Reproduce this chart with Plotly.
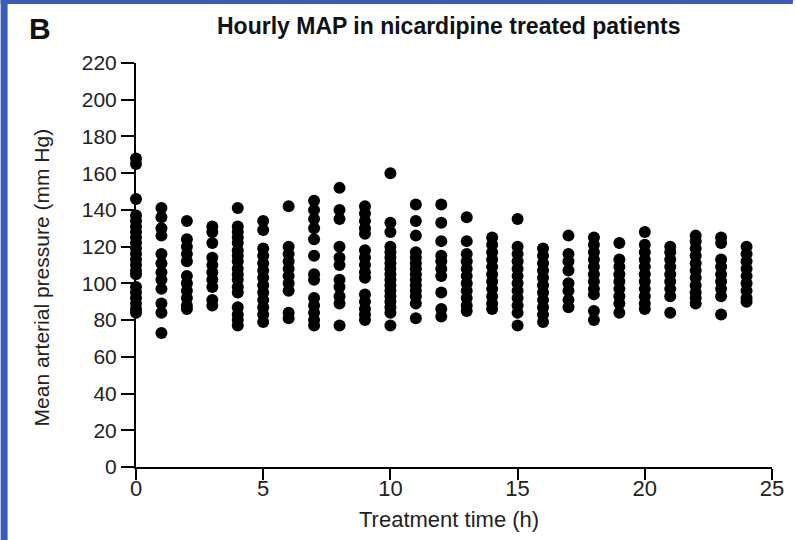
import plotly.graph_objects as go

hours = list(range(25))
map_values = {
    0: [168, 165, 146, 137, 134, 131, 128, 125, 122, 119, 116, 113, 110, 107, 105, 98, 95, 92, 89, 86, 84],
    1: [141, 136, 130, 126, 116, 111, 106, 102, 97, 89, 84, 73],
    2: [134, 124, 120, 116, 112, 104, 100, 96, 92, 88, 86],
    3: [131, 128, 122, 114, 110, 106, 102, 98, 91, 88],
    4: [141, 131, 128, 125, 122, 118, 115, 112, 108, 105, 102, 98, 95, 87, 83, 80, 77],
    5: [134, 129, 119, 115, 111, 107, 103, 99, 95, 91, 87, 83, 79],
    6: [142, 120, 116, 112, 108, 104, 100, 96, 84, 81],
    7: [145, 140, 135, 130, 124, 115, 105, 102, 92, 88, 84, 80, 77],
    8: [152, 140, 135, 120, 114, 110, 102, 98, 93, 89, 77],
    9: [142, 138, 134, 130, 127, 118, 114, 110, 106, 103, 94, 90, 86, 83, 80],
    10: [160, 133, 128, 120, 117, 114, 111, 108, 105, 102, 99, 96, 93, 90, 87, 84, 77],
    11: [143, 134, 126, 117, 114, 111, 108, 105, 102, 99, 96, 93, 89, 81],
    12: [143, 133, 123, 115, 112, 108, 104, 95, 86, 82],
    13: [136, 123, 116, 112, 108, 104, 100, 96, 92, 88, 85],
    14: [125, 121, 117, 113, 109, 105, 101, 97, 93, 89, 86],
    15: [135, 120, 116, 112, 108, 104, 100, 96, 92, 88, 84, 77],
    16: [119, 115, 111, 107, 103, 99, 95, 91, 87, 83, 79],
    17: [126, 116, 112, 107, 100, 96, 91, 87],
    18: [125, 121, 117, 113, 109, 105, 101, 97, 94, 85, 80],
    19: [122, 113, 109, 105, 101, 97, 93, 89, 84],
    20: [128, 121, 117, 113, 109, 105, 101, 97, 93, 89, 86],
    21: [120, 117, 113, 109, 105, 101, 97, 93, 84],
    22: [126, 123, 119, 115, 111, 107, 103, 99, 95, 92, 89],
    23: [125, 122, 113, 109, 105, 101, 97, 93, 83],
    24: [120, 116, 112, 108, 104, 100, 96, 92, 90],
}
x_ticks = [0, 5, 10, 15, 20, 25]
y_ticks = list(range(0, 221, 20))

xs, ys = [], []
for h in hours:
    for v in map_values[h]:
        xs.append(h)
        ys.append(v)

fig = go.Figure()
fig.add_trace(go.Scatter(
    x=xs, y=ys, mode="markers",
    marker=dict(color="black", size=12, line=dict(width=0)),
    cliponaxis=False, showlegend=False,
))

W, H = 796, 540
L, R, T, B = 136, 21, 63, 73
fig.update_layout(
    width=W, height=H,
    margin=dict(l=L, r=R, t=T, b=B),
    paper_bgcolor="white", plot_bgcolor="white",
    font=dict(family="Liberation Sans, Arial, sans-serif", color="black"),
    xaxis=dict(range=[0, 25], tickvals=x_ticks, showgrid=False, zeroline=False,
               showline=True, linecolor="black", linewidth=2,
               ticks="outside", ticklen=11, tickwidth=2, tickcolor="black",
               tickfont=dict(size=22, color="#222"), ticklabelstandoff=-10),
    yaxis=dict(range=[0, 220], tickvals=y_ticks, showgrid=False, zeroline=False,
               showline=True, linecolor="black", linewidth=2,
               ticks="outside", ticklen=13, tickwidth=2, tickcolor="black",
               tickfont=dict(size=21, color="#222")),
)

def px(xp):
    return (xp - L) / (W - L - R)

def py(yp):
    return (H - B - yp) / (H - T - B)

fig.add_annotation(x=px(450), y=py(26), xref="paper", yref="paper",
                   text="<b>Hourly MAP in nicardipine treated patients</b>",
                   showarrow=False, font=dict(size=23, color="#111"), xanchor="center", yanchor="middle")
fig.add_annotation(x=px(40), y=py(29), xref="paper", yref="paper",
                   text="<b>B</b>", showarrow=False, font=dict(size=30, color="#111"),
                   xanchor="center", yanchor="middle")
fig.add_annotation(x=px(450), y=py(519), xref="paper", yref="paper",
                   text="Treatment time (h)", showarrow=False, font=dict(size=22, color="#222"),
                   xanchor="center", yanchor="middle")
fig.add_annotation(x=px(41), y=py(277), xref="paper", yref="paper",
                   text="Mean arterial pressure (mm Hg)", showarrow=False, font=dict(size=21, color="#222"),
                   textangle=-90, xanchor="center", yanchor="middle")

# blue frame strips
fig.add_shape(type="rect", xref="paper", yref="paper", x0=px(0), x1=px(W), y0=py(0), y1=py(4),
              fillcolor="#3a5bb6", line=dict(width=0), layer="below")
fig.add_shape(type="rect", xref="paper", yref="paper", x0=px(0), x1=px(7), y0=py(0), y1=py(H),
              fillcolor="#3a5bb6", line=dict(width=0), layer="below")

fig.write_html("out.html")
